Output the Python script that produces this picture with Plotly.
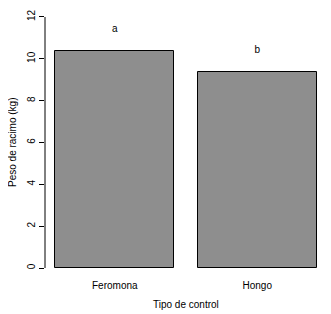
import plotly.graph_objects as go

categories = ["Feromona", "Hongo"]
values = [10.38, 9.38]
letters = ["a", "b"]
letter_heights = [11.4, 10.4]
y_ticks = [0, 2, 4, 6, 8, 10, 12]

centers = [0.7, 1.9]

fig = go.Figure()
fig.add_trace(go.Bar(
    x=centers, y=values, width=1.0,
    marker=dict(color="#8e8e8e", line=dict(color="black", width=1)),
    showlegend=False, hoverinfo="skip",
))
fig.add_trace(go.Scatter(
    x=centers, y=letter_heights, mode="text", text=letters,
    textfont=dict(family="Liberation Sans, Arial", size=10, color="black"),
    showlegend=False, hoverinfo="skip",
))

fig.add_shape(type="line", xref="paper", yref="y", x0=0, x1=0, y0=0, y1=12,
              line=dict(color="black", width=1))

fig.update_layout(
    width=323, height=306,
    margin=dict(l=37, r=4, t=0, b=36),
    paper_bgcolor="white", plot_bgcolor="white",
    font=dict(family="Liberation Sans, Arial", size=10, color="black"),
    bargap=0,
    xaxis=dict(range=[0.112, 2.488], tickvals=centers, ticktext=categories,
               showgrid=False, zeroline=False, showline=False, ticks="",
               tickfont=dict(size=10), automargin=False),
    yaxis=dict(range=[-0.478, 12.43], tickvals=y_ticks, showgrid=False,
               zeroline=False, showline=False, ticks="outside", ticklen=5,
               tickcolor="black", tickangle=-90, tickfont=dict(size=10),
               automargin=False),
    annotations=[
        dict(text="Tipo de control", xref="paper", yref="paper",
             x=0.5, y=-0.0963, xanchor="center", yanchor="middle",
             showarrow=False, font=dict(size=10)),
        dict(text="Peso de racimo (kg)", xref="paper", yref="paper",
             x=-0.117, y=0.5, xanchor="center", yanchor="middle",
             textangle=-90, showarrow=False, font=dict(size=10)),
    ],
)

fig.write_html("out.html")
